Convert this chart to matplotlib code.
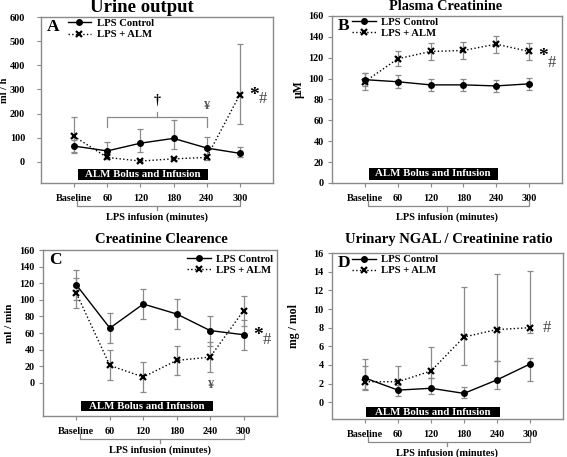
import numpy as np
import matplotlib
matplotlib.use("Agg")
import matplotlib.pyplot as plt
import matplotlib.transforms as mtransforms
from matplotlib.lines import Line2D

plt.rcParams['font.family'] = ['Liberation Serif', 'DejaVu Serif']
plt.rcParams['font.weight'] = 'bold'

# ---- data ----
categories = ['Baseline', '60', '120', '180', '240', '300']

urine_ctrl = [65, 45, 77, 97, 57, 35]
urine_ctrl_lo = [25, 25, 35, 42, 25, 14]
urine_ctrl_hi = [25, 35, 57, 75, 44, 27]
urine_alm = [105, 18, 3, 12, 18, 278]
urine_alm_lo = [68, 8, 4, 5, 10, 122]
urine_alm_hi = [82, 8, 4, 5, 12, 212]

pcr_ctrl = [99, 97, 94, 94, 93, 95]
pcr_ctrl_err = [6, 6, 6, 6, 6, 6]
pcr_alm = [97, 119, 126, 127, 133, 126]
pcr_alm_err = [8, 7, 8, 8, 8, 8]

ccl_ctrl = [118, 66, 95, 83, 63, 58]
ccl_ctrl_err = [18, 18, 18, 18, 18, 18]
ccl_alm = [108, 21, 7, 27, 31, 87]
ccl_alm_err = [18, 18, 18, 18, 18, 18]

ngal_ctrl = [2.6, 1.3, 1.5, 0.95, 2.4, 4.1]
ngal_ctrl_lo = [1.2, 0.6, 0.6, 0.45, 1.0, 1.8]
ngal_ctrl_hi = [2.0, 0.6, 1.1, 0.65, 2.0, 0.6]
ngal_alm = [2.2, 2.2, 3.35, 7.0, 7.8, 8.0]
ngal_alm_lo = [0.9, 0.9, 0.8, 3.0, 3.4, 0.6]
ngal_alm_hi = [1.7, 1.65, 2.6, 5.4, 5.95, 6.1]

x = np.arange(len(categories))
GRAY = '#8a8a8a'

fig = plt.figure(figsize=(5.67, 4.57), dpi=100)


def panel(rect, title, title_x, title_y, title_size, letter, ylabel, ylab_x,
          ylab_size, ylim, yticks, ctrl, ctrl_err, alm, alm_err, bar_y,
          bar_x0, bar_x1, legend_anchor, legend_loc, ypad):
    ax = fig.add_axes(rect)
    ax.errorbar(x, ctrl, yerr=ctrl_err, fmt='none', ecolor=GRAY,
                elinewidth=0.9, capsize=2.5, capthick=0.9, zorder=2)
    ax.errorbar(x, alm, yerr=alm_err, fmt='none', ecolor=GRAY,
                elinewidth=0.9, capsize=2.5, capthick=0.9, zorder=2)
    ax.plot(x, ctrl, '-', color='black', lw=1.0, marker='o', ms=4,
            label='LPS Control', zorder=3)
    ax.plot(x, alm, ':', color='black', lw=1.0, marker='x', ms=4, mew=1.6,
            label='LPS + ALM', zorder=3)
    ax.set_xlim(-1, 6)
    ax.set_ylim(*ylim)
    ax.set_yticks(yticks)
    ax.set_xticks(x)
    ax.set_xticklabels(categories)
    ax.tick_params(axis='both', labelsize=7.3, length=3, color=GRAY, width=0.8)
    ax.tick_params(axis='x', pad=5)
    ax.tick_params(axis='y', pad=ypad)
    for s in ax.spines.values():
        s.set_color(GRAY)
        s.set_linewidth(1.0)
    ax.set_ylabel(ylabel, fontsize=ylab_size, fontweight='bold')
    ax.yaxis.set_label_coords(ylab_x, 0.56)
    ax.text(title_x, title_y, title, transform=ax.transAxes, ha='center',
            va='center', fontsize=title_size, fontweight='bold')
    ax.text(0.025, 0.94, letter, transform=ax.transAxes, ha='left',
            va='center', fontsize=12.5, fontweight='bold')
    # ALM bolus bar
    ax.barh(np.mean(bar_y), bar_x1 - bar_x0, left=bar_x0,
            height=bar_y[1] - bar_y[0], color='black', zorder=4)
    ax.text((bar_x0 + bar_x1) / 2, np.mean(bar_y), 'ALM Bolus and Infusion',
            color='white', ha='center', va='center', fontsize=7.8,
            fontweight='bold', zorder=5)
    # bracket under x labels
    tr = mtransforms.blended_transform_factory(ax.transData, ax.transAxes)
    xs = [x[0] + 0.1, x[0] + 0.1, x[-1], x[-1]]
    ys = [-0.11, -0.14, -0.14, -0.11]
    ax.add_line(Line2D(xs, ys, transform=tr, color=GRAY, lw=0.9, clip_on=False))
    mid = (x[0] + x[-1]) / 2
    ax.add_line(Line2D([mid, mid], [-0.14, -0.165], transform=tr, color=GRAY,
                       lw=0.9, clip_on=False))
    ax.text(mid, -0.205, 'LPS infusion (minutes)', transform=tr, ha='center',
            va='center', fontsize=7.5, fontweight='bold')
    ax.legend(loc=legend_loc, bbox_to_anchor=legend_anchor, frameon=False,
              fontsize=7.7, handlelength=2.2, handletextpad=0.5,
              labelspacing=0.15, borderpad=0, borderaxespad=0)
    return ax


axA = panel([0.0723, 0.5996, 0.409, 0.363], 'Urine output', 0.435, 1.06, 13.5,
            'A', 'ml / h', -0.14, 7.5, (-88, 600), np.arange(0, 601, 100),
            urine_ctrl, [urine_ctrl_lo, urine_ctrl_hi],
            urine_alm, [urine_alm_lo, urine_alm_hi],
            (-76, -28), 0.13, 4.03, (0.115, 0.99), 'upper left', 8.5)
axB = panel([0.5855, 0.5996, 0.4056, 0.3654], 'Plasma Creatinine', 0.496, 1.055,
            10.3, 'B', 'µM', -0.12, 8.5, (0, 160), np.arange(0, 161, 20),
            pcr_ctrl, pcr_ctrl_err, pcr_alm, pcr_alm_err,
            (3.2, 14.3), 0.12, 4.04, (0.087, 0.99), 'upper left', 3)
axC = panel([0.0758, 0.0897, 0.4127, 0.363], 'Creatinine Clearence', 0.508, 1.066,
            10.5, 'C', 'ml / min', -0.125, 8, (-40, 160), np.arange(0, 161, 20),
            ccl_ctrl, ccl_ctrl_err, ccl_alm, ccl_alm_err,
            (-34, -22), 0.14, 4.08, (0.983, 0.975), 'upper right', 3)
axD = panel([0.5855, 0.0831, 0.4074, 0.363], 'Urinary NGAL / Creatinine ratio',
            0.506, 1.08, 10.5, 'D', 'mg / mol', -0.14, 8.5, (-1.8, 16),
            np.arange(0, 17, 2),
            ngal_ctrl, [ngal_ctrl_lo, ngal_ctrl_hi],
            ngal_alm, [ngal_alm_lo, ngal_alm_hi],
            (-1.6, -0.54), 0.03, 4.08, (0.087, 0.99), 'upper left', 3)

# significance marks
axA.text(5.28, 275, '*', fontsize=14, ha='left', va='center')
axA.text(5.58, 262, '#', fontsize=12, ha='left', va='center',
         fontweight='normal', color='#444444')
axB.text(5.28, 121, '*', fontsize=14, ha='left', va='center')
axB.text(5.58, 115, '#', fontsize=12, ha='left', va='center',
         fontweight='normal', color='#444444')
axC.text(5.28, 57, '*', fontsize=14, ha='left', va='center')
axC.text(5.58, 52, '#', fontsize=12, ha='left', va='center',
         fontweight='normal', color='#444444')
axD.text(5.4, 8.0, '#', fontsize=12, ha='left', va='center',
         fontweight='normal', color='#444444')

axC.text(4, -3, '¥', fontsize=9, ha='center', va='center', color='#555555')

# bracket 60-240 in panel A
axA.plot([1, 1, 4, 4], [145, 184, 184, 145], color=GRAY, lw=0.9)
axA.plot([2.5, 2.5], [184, 208], color=GRAY, lw=0.9)
axA.text(2.5, 256, '†', fontsize=10, ha='center', va='center')
axA.text(4, 232, '¥', fontsize=9, ha='center', va='center', color='#555555')

fig.savefig('out.png', dpi=100)
